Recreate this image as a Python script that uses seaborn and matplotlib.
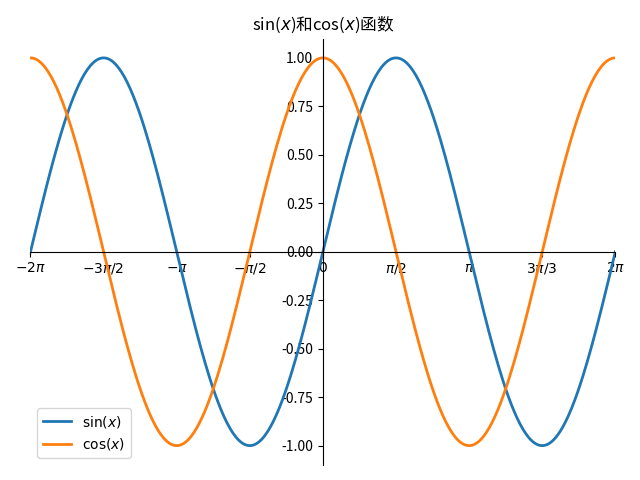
import numpy as np
import matplotlib
matplotlib.use("Agg")
import matplotlib.pyplot as plt
import seaborn as sns

plt.rcParams['font.family'] = ['DejaVu Sans', 'Noto Sans CJK SC']
plt.rcParams['axes.unicode_minus'] = False

# the curves are the functions named in the title
x = np.linspace(-2 * np.pi, 2 * np.pi, 400)
sin_y = np.sin(x)
cos_y = np.cos(x)

xtick_pos = [-2 * np.pi, -3 * np.pi / 2, -np.pi, -np.pi / 2, 0,
             np.pi / 2, np.pi, 3 * np.pi / 2, 2 * np.pi]
xtick_labels = [r'$-2\pi$', r'$-3\pi/2$', r'$-\pi$', r'$-\pi/2$', r'$0$',
                r'$\pi/2$', r'$\pi$', r'$3\pi/3$', r'$2\pi$']
ytick_pos = [-1.0, -0.75, -0.5, -0.25, 0.0, 0.25, 0.5, 0.75, 1.0]

fig, ax = plt.subplots(figsize=(6.4, 4.8), dpi=100)
sns.lineplot(x=x, y=sin_y, ax=ax, label=r'sin($x$)', linewidth=2)
sns.lineplot(x=x, y=cos_y, ax=ax, label=r'cos($x$)', linewidth=2)

ax.set_xlim(-2 * np.pi, 2 * np.pi)
ax.set_ylim(-1.1, 1.1)
ax.spines['right'].set_visible(False)
ax.spines['top'].set_visible(False)
ax.spines['left'].set_position(('data', 0))
ax.spines['bottom'].set_position(('data', 0))

ax.set_xticks(xtick_pos)
ax.set_xticklabels(xtick_labels, fontsize=10)
ax.set_yticks(ytick_pos)
ax.set_yticklabels([f'{v:.2f}' for v in ytick_pos], family='Noto Sans CJK SC', fontsize=10)

ax.set_title(r'sin($x$)和cos($x$)函数', family='Noto Sans CJK SC')
ax.legend(loc='lower left')

plt.tight_layout()
plt.savefig('out.png', dpi=100)
